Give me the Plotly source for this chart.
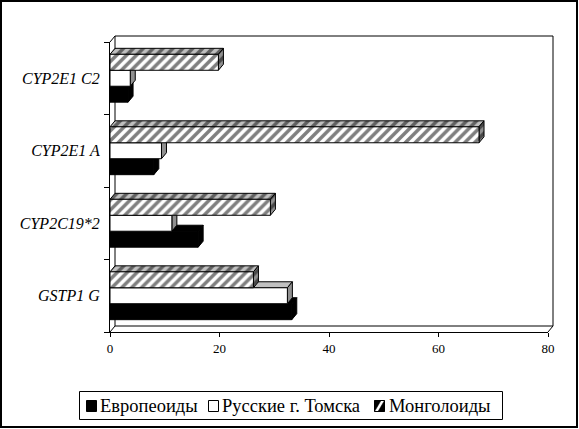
import plotly.graph_objects as go

categories = ["GSTP1 G", "CYP2C19*2", "CYP2E1 A", "CYP2E1 C2"]
series_names = ["Европеоиды", "Русские г. Томска", "Монголоиды"]
europeoids = [33.2, 16.1, 8.0, 3.3]
russians_tomsk = [32.4, 11.3, 9.4, 3.7]
mongoloids = [26.2, 29.3, 67.4, 19.8]
x_ticks = [0, 20, 40, 60, 80]

series_values = [europeoids, russians_tomsk, mongoloids]

W, H = 579, 429
ML, MR, MT, MB = 110, 31, 42, 97
PW, PH = W - ML - MR, H - MT - MB
XMAX = 80
YMIN, YMAX = -0.5, len(categories) - 0.5
DXP, DYP = 5, 6
dx = DXP * XMAX / PW
dy = DYP * (YMAX - YMIN) / PH


def pxx(px):
    return (px - ML) / PW


def pxy(py):
    return (MT + PH - py) / PH


bw = 0.22
offsets = [-1.5 * bw, -0.5 * bw, 0.5 * bw]
ypos = list(range(len(categories)))

hatch = dict(shape="/", fgcolor="black", size=7, solidity=0.5)
front_style = [
    dict(color="black", pattern=None),
    dict(color="white", pattern=None),
    dict(color="white", pattern=dict(hatch, bgcolor="white")),
]
top_style = [
    dict(color="black", pattern=None),
    dict(color="#c0c0c0", pattern=None),
    dict(color="#c0c0c0", pattern=dict(hatch, bgcolor="#c0c0c0")),
]
side_style = [
    dict(color="black", pattern=None),
    dict(color="#909090", pattern=None),
    dict(color="#909090", pattern=dict(hatch, bgcolor="#909090")),
]

fig = go.Figure()

for si, vals in enumerate(series_values):
    for faces, style in (("top", top_style[si]), ("side", side_style[si])):
        xs, ys = [], []
        for yi, v in zip(ypos, vals):
            yb = yi + offsets[si]
            yt = yb + bw
            if faces == "top":
                px = [0, v, v + dx, dx, 0]
                py = [yt, yt, yt + dy, yt + dy, yt]
            else:
                px = [v, v + dx, v + dx, v, v]
                py = [yb, yb + dy, yt + dy, yt, yb]
            xs += px + [None]
            ys += py + [None]
        kw = dict(x=xs, y=ys, mode="lines", fill="toself", fillcolor=style["color"],
                  line=dict(color="black", width=1), showlegend=False, hoverinfo="skip",
                  xaxis="x", yaxis="y")
        if style["pattern"]:
            kw["fillpattern"] = style["pattern"]
        fig.add_trace(go.Scatter(**kw))

for si, (name, vals) in enumerate(zip(series_names, series_values)):
    marker = dict(color=front_style[si]["color"], line=dict(color="black", width=1))
    if front_style[si]["pattern"]:
        marker["pattern"] = front_style[si]["pattern"]
    fig.add_trace(go.Bar(
        x=vals, y=ypos, orientation="h", name=name, width=bw, offset=offsets[si],
        marker=marker, xaxis="x2", yaxis="y2", showlegend=False,
    ))

font_family = '"Liberation Serif", "Times New Roman", serif'

pdx, pdy = DXP / PW, DYP / PH
line1 = dict(color="black", width=1)
shapes = [
    dict(type="rect", xref="paper", yref="paper", x0=pdx, y0=pdy, x1=1 + pdx, y1=1 + pdy,
         line=line1, fillcolor="white", layer="below"),
    dict(type="line", xref="paper", yref="paper", x0=0, y0=1, x1=pdx, y1=1 + pdy,
         line=line1, layer="below"),
    dict(type="line", xref="paper", yref="paper", x0=0, y0=0, x1=pdx, y1=pdy,
         line=line1, layer="below"),
    dict(type="line", xref="paper", yref="paper", x0=1, y0=0, x1=1 + pdx, y1=pdy,
         line=line1, layer="below"),
    # outer frame
    dict(type="rect", xref="paper", yref="paper",
         x0=pxx(1), x1=pxx(W - 2), y0=pxy(H - 2), y1=pxy(1),
         line=dict(color="black", width=2), fillcolor="rgba(0,0,0,0)", layer="above"),
    # legend box
    dict(type="rect", xref="paper", yref="paper",
         x0=pxx(79.5), x1=pxx(502.5), y0=pxy(419.5), y1=pxy(391.5),
         line=line1, fillcolor="white", layer="above"),
]

# legend entries (swatch left edges and text left edges, in pixels)
swatch_x = [86, 208, 374]
text_x = [98, 220, 387]
sw_top, sw_bot = 400.5, 411.5
sw = 11
annotations = []
for i, name in enumerate(series_names):
    x0, x1 = swatch_x[i] + 0.5, swatch_x[i] + sw - 0.5
    fill = "black" if i == 0 else "white"
    shapes.append(dict(type="rect", xref="paper", yref="paper",
                       x0=pxx(x0), x1=pxx(x1), y0=pxy(sw_bot), y1=pxy(sw_top),
                       line=line1, fillcolor=fill, layer="above"))
    if i == 2:
        a = 3.5
        p1 = (f"M {pxx(x0)},{pxy(sw_bot)} L {pxx(x1 - a)},{pxy(sw_top)} "
              f"L {pxx(x0)},{pxy(sw_top)} Z")
        p2 = (f"M {pxx(x0 + a)},{pxy(sw_bot)} L {pxx(x1)},{pxy(sw_top)} "
              f"L {pxx(x1)},{pxy(sw_bot)} Z")
        for p in (p1, p2):
            shapes.append(dict(type="path", xref="paper", yref="paper", path=p,
                               fillcolor="black", line=dict(color="black", width=0.5),
                               layer="above"))
    annotations.append(dict(text=name, xref="paper", yref="paper", x=pxx(text_x[i]),
                            y=pxy(406), xanchor="left", yanchor="middle", showarrow=False,
                            font=dict(size=18.5, family=font_family, color="black")))

fig.update_layout(
    width=W, height=H,
    margin=dict(l=ML, r=MR, t=MT, b=MB, pad=0, autoexpand=False),
    paper_bgcolor="white", plot_bgcolor="rgba(0,0,0,0)",
    barmode="overlay",
    showlegend=False,
    font=dict(family=font_family, color="black", size=13),
    shapes=shapes,
    annotations=annotations,
    xaxis=dict(range=[0, XMAX], tickvals=x_ticks, ticktext=[str(t) for t in x_ticks],
               showgrid=False, zeroline=False, showline=True, linecolor="black", linewidth=1,
               ticks="outside", ticklen=4, tickcolor="black", tickfont=dict(size=13),
               automargin=False),
    yaxis=dict(range=[YMIN, YMAX], tickvals=ypos, ticktext=categories,
               showgrid=False, zeroline=False, showline=True, linecolor="black", linewidth=1,
               ticks="outside", ticklen=6, tickcolor="rgba(0,0,0,0)",
               tickfont=dict(size=16, style="italic"), automargin=False,
               minor=dict(tickvals=[y - 0.5 for y in ypos] + [YMAX], ticks="outside",
                          ticklen=5, tickcolor="black")),
    xaxis2=dict(range=[0, XMAX], overlaying="x", visible=False),
    yaxis2=dict(range=[YMIN, YMAX], overlaying="y", visible=False),
)

fig.write_html("out.html", config={"displayModeBar": False},
               post_script="document.body.style.margin='0';document.body.style.overflow='hidden';")
